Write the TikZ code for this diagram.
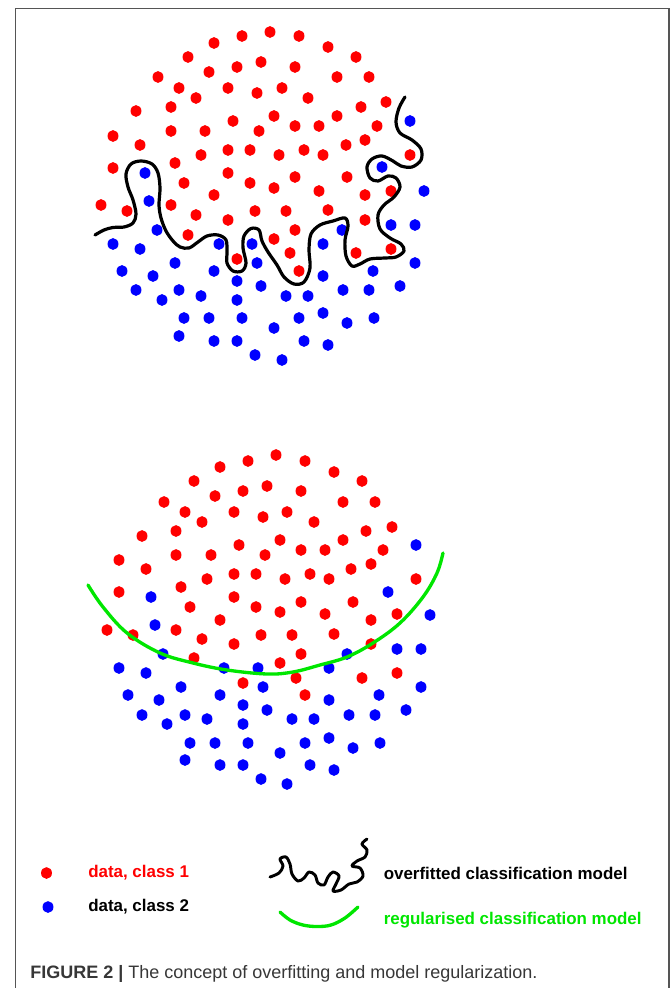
\documentclass[tikz,border=0pt]{standalone}
\usepackage{fontspec}
\setmainfont{Liberation Sans}
\usepackage{xcolor}
\definecolor{clsred}{RGB}{255,0,0}
\definecolor{clsblue}{RGB}{0,0,255}
\definecolor{regreen}{RGB}{0,230,0}
\definecolor{framegray}{RGB}{85,85,85}
\definecolor{capgray}{RGB}{55,55,55}
\usetikzlibrary{positioning}
\tikzset{
  reddot/.style={fill=clsred},
  bluedot/.style={fill=clsblue},
  overfit/.style={black,line width=2.4pt,line cap=round,line join=round},
  regular/.style={regreen,line width=2.5pt,line cap=round,line join=round},
  legtext/.style={font=\bfseries\fontsize{12.7}{15}\selectfont,anchor=west,inner sep=0pt},
}

\begin{document}
\begin{tikzpicture}[x=0.75pt,y=-0.75pt]
  \useasboundingbox (0,0) rectangle (671,988);
  \draw[framegray,line width=0.9pt] (15.5,988) -- (15.5,8.5) -- (669,8.5) -- (669,988);

  \foreach \x/\y in {270/32,242/36,299/36,214/43,328/47,188/57,356/57,261/62,237/67,295/67,
      209/72,158/77,337/77,369/77,179/88,228/88,282/88,257/93,196/98,308/98,386/102,171/107,
      361/107,136/111,274/116,337/116,233/121,295/126,319/126,377/126,171/131,205/131,259/131,
      113/136,365/140,140/145,346/145,228/150,250/150,304/150,201/155,279/155,323/155,410/155,
      175/163,113/168,228/173,295/177,347/177,184/183,250/183,274/188,319/191,391/191,214/195,
      365/195,101/205,127/211,171/205,196/215,255/211,286/211,328/210,228/220,365/220,295/230,
      188/235,274/239,290/253,356/253,391/249,237/259,299/271}
    \fill[reddot] (\x,\y) ellipse[x radius=4.1pt,y radius=4.4pt];
  \foreach \x/\y in {410/121,382/167,145/173,424/191,149/201,157/230,342/230,391/225,415/225,
      113/244,140/249,219/244,252/244,323/244,175/263,257/263,415/263,122/271,153/276,214/271,
      323/276,373/271,237/281,261/286,400/286,136/290,179/290,343/290,369/290,162/300,201/296,
      237/300,286/296,308/296,184/318,209/318,242/318,299/318,323/313,374/318,274/328,347/323,
      179/336,214/341,237/341,304/341,328/345,255/355,282/360}
    \fill[bluedot] (\x,\y) ellipse[x radius=4.1pt,y radius=4.4pt];

  \draw[overfit] plot[smooth,tension=0.55] coordinates {(95,235) (104,230) (113,227.5) (124,227)
      (133,223) (136,214) (133,200) (128,187) (126,174) (131,164) (141,161) (152,164) (158,173)
      (160,188) (159,205) (161,218) (166,231) (173,241) (180,247) (189,248) (198,242) (207,236)
      (218,235) (226,240) (227,252) (227,263) (233,271) (242,271) (246,263) (243,248) (244,236)
      (251,228.5) (259,230) (262,241) (268,252) (277,265) (284,277) (294,284) (304,282) (310,268)
      (309,250) (311,234) (320,225) (333,221) (345,218) (348,226) (345,240) (346,256) (352,266)
      (360,264) (370,259) (385,258) (396,257) (404,251) (401,244) (390,238) (380,229) (378,215)
      (384,205) (394,197) (400,187) (396,178) (388,176) (378,181) (370,178) (367,167) (372,159)
      (382,156) (393,161) (401,166) (412,167) (421,160) (421,149) (412,140) (400,133) (396,122)
      (399,108) (405,97)};

  \foreach \x/\y in {276/455,248/461,305/461,220/467,334/472,194/481,362/481,267/486,243/491,
      301/491,215/496,164/502,343/502,375/502,185/512,234/512,287/512,263/517,202/522,314/522,
      392/527,176/531,366/531,142/536,280/540,343/540,239/545,301/550,325/550,383/550,176/555,
      211/555,265/555,119/560,371/564,146/569,351/569,207/579,234/574,256/574,285/579,310/574,
      329/579,416/579,119/592,181/587,234/597,190/607,256/607,280/612,301/602,353/602,325/614,
      371/620,397/614,220/620,107/630,133/635,176/630,202/639,261/635,292/635,334/634,234/644,
      371/644,194/658,301/654,280/663,296/678,362/678,397/673,243/683,305/695}
    \fill[reddot] (\x,\y) ellipse[x radius=4.1pt,y radius=4.4pt];
  \foreach \x/\y in {416/545,151/597,388/592,430/615,155/625,163/654,347/654,397/649,421/649,
      119/668,146/673,224/668,258/668,329/668,181/687,263/687,421/687,128/695,159/700,220/695,
      243/705,329/700,379/695,267/710,406/710,142/715,185/715,207/719,292/719,314/719,349/715,
      375/715,167/724,243/724,190/743,215/743,248/743,305/743,329/738,380/743,280/753,353/748,
      185/760,220/765,243/765,310/765,334/770,261/779,287/784}
    \fill[bluedot] (\x,\y) ellipse[x radius=4.1pt,y radius=4.4pt];

  \draw[regular] plot[smooth,tension=0.6] coordinates {(88,585) (103,607) (127,633) (160,653)
      (193,663) (227,670) (267,674) (293,672) (320,665) (347,657) (373,643) (400,623) (423,597)
      (437,573) (443,553)};

  \fill[reddot] (46.5,873) ellipse[x radius=4.1pt,y radius=4.4pt];
  \fill[bluedot] (48,907) ellipse[x radius=4.1pt,y radius=4.4pt];
  \node[legtext,text=clsred] (cls1) at (88,873) {data, class 1};
  \node[legtext] (cls2) at (88,907) {data, class 2};

  \draw[overfit,line width=2.2pt] plot[smooth,tension=0.55] coordinates {(270,877) (279,873)
      (283,866) (280,859) (286,857) (290,864) (292,874) (298,881) (304,878) (309,872) (315,875)
      (318,883) (324,885) (328,877) (333,872) (339,876) (336,884) (333,891) (341,890) (349,884)
      (357,882) (363,876) (360,868) (352,866) (357,861) (365,857) (367,850) (362,844) (367,839)};
  \draw[regular] plot[smooth,tension=0.6] coordinates {(280,912) (290,920) (303,925) (317,926.5)
      (331,925) (345,918) (358,907)};
  \node[legtext] (ovtxt) at (383.5,873) {overfitted classification model};
  \node[legtext,text=regreen] (rgtxt) at (383.5,920) {regularised classification model};

  \node[anchor=base west,inner sep=0pt,text=capgray,font=\fontsize{13.5}{16}\selectfont]
      (caption) at (30,978) {\textbf{FIGURE 2 |} The concept of overfitting and model regularization.};
\end{tikzpicture}
\end{document}
